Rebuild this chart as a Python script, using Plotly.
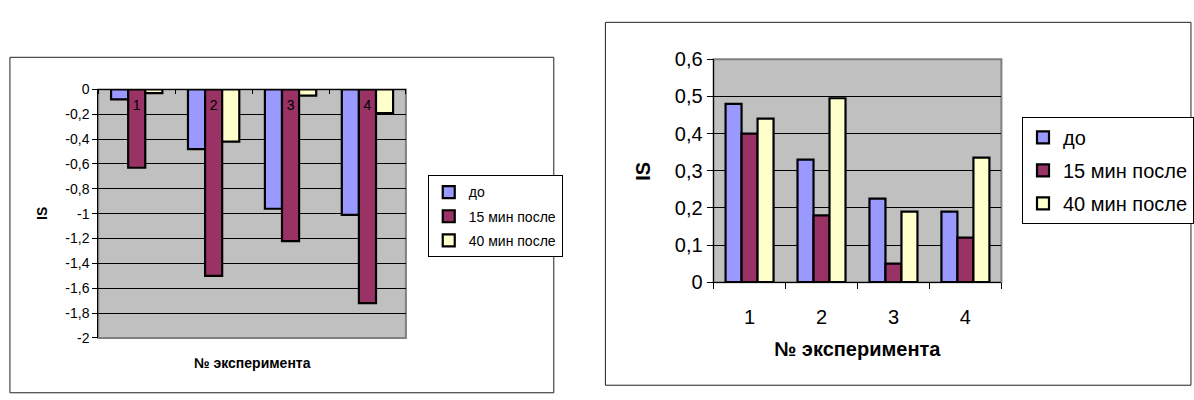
import plotly.graph_objects as go

W, H = 1194, 400

# --- data -------------------------------------------------------------
experiments = ["1", "2", "3", "4"]
series_names = ["до", "15 мин после", "40 мин после"]
series_colors = ["#9999FF", "#993366", "#FFFFCC"]

# IS, first panel (negative values)
left_do = [-0.08, -0.48, -0.96, -1.01]
left_15 = [-0.63, -1.50, -1.22, -1.72]
left_40 = [-0.03, -0.42, -0.05, -0.19]

# IS, second panel
right_do = [0.48, 0.33, 0.225, 0.19]
right_15 = [0.40, 0.18, 0.05, 0.12]
right_40 = [0.44, 0.495, 0.19, 0.335]

left_tick_vals = [0, -0.2, -0.4, -0.6, -0.8, -1, -1.2, -1.4, -1.6, -1.8, -2]
left_tick_text = ["0", "-0,2", "-0,4", "-0,6", "-0,8", "-1", "-1,2", "-1,4", "-1,6", "-1,8", "-2"]
right_tick_vals = [0, 0.1, 0.2, 0.3, 0.4, 0.5, 0.6]
right_tick_text = ["0", "0,1", "0,2", "0,3", "0,4", "0,5", "0,6"]

axis_title_x = "№ эксперимента"
axis_title_y = "IS"

FONT = "Liberation Sans, Arial, sans-serif"


def fx(px):
    return px / W


def fy(py):
    return 1 - py / H


fig = go.Figure()

left_series = [left_do, left_15, left_40]
right_series = [right_do, right_15, right_40]

for i, (name, color) in enumerate(zip(series_names, series_colors)):
    fig.add_trace(go.Bar(
        x=experiments, y=left_series[i], name=name,
        marker=dict(color=color, line=dict(color="black", width=2.2)),
        xaxis="x", yaxis="y", legend="legend", legendgroup=f"l{i}",
    ))
for i, (name, color) in enumerate(zip(series_names, series_colors)):
    fig.add_trace(go.Bar(
        x=experiments, y=right_series[i], name=name,
        marker=dict(color=color, line=dict(color="black", width=2.2)),
        xaxis="x2", yaxis="y2", legend="legend2", legendgroup=f"r{i}",
    ))

small = dict(family=FONT, size=14, color="black")
big = dict(family=FONT, size=20, color="black")

fig.update_layout(
    width=W, height=H,
    margin=dict(l=0, r=0, t=0, b=0),
    paper_bgcolor="white",
    plot_bgcolor="#C0C0C0",
    barmode="group",
    bargap=0.333,
    bargroupgap=0,
    font=dict(family=FONT, color="black"),
    showlegend=True,
    # left panel: category axis sits on the zero line at the top
    xaxis=dict(
        domain=[fx(99), fx(409)], anchor="free", position=fy(83), side="bottom",
        type="category", tickson="boundaries", ticks="outside", ticklen=4,
        tickcolor="black", showline=True, linecolor="black", linewidth=1,
        showgrid=False, tickfont=small, ticklabelstandoff=3, fixedrange=True,
    ),
    yaxis=dict(
        domain=[fy(346), fy(83)], anchor="x", range=[-2, 0],
        tickvals=left_tick_vals, ticktext=left_tick_text, tickfont=small,
        ticks="outside", ticklen=5, tickcolor="black",
        showline=True, linecolor="black", linewidth=1,
        showgrid=True, gridcolor="black", gridwidth=1, zeroline=False,
    ),
    xaxis2=dict(
        domain=[fx(719), fx(1009)], anchor="y2", side="bottom",
        type="category", tickson="boundaries", ticks="outside", ticklen=6,
        tickcolor="black", showline=True, linecolor="black", linewidth=1,
        showgrid=False, tickfont=big, ticklabelstandoff=17,
    ),
    yaxis2=dict(
        domain=[fy(287), fy(51)], anchor="x2", range=[0, 0.6],
        tickvals=right_tick_vals, ticktext=right_tick_text, tickfont=big,
        ticks="outside", ticklen=6, tickcolor="black",
        showline=True, linecolor="black", linewidth=1,
        showgrid=True, gridcolor="black", gridwidth=1, zeroline=False,
    ),
    legend=dict(
        x=fx(431), y=fy(174), xanchor="left", yanchor="top",
        bgcolor="white", bordercolor="black", borderwidth=1,
        font=small, tracegroupgap=3, itemwidth=30,
    ),
    legend2=dict(
        x=fx(1030), y=fy(112), xanchor="left", yanchor="top",
        bgcolor="white", bordercolor="black", borderwidth=1,
        font=big, tracegroupgap=4, itemwidth=30,
    ),
)

shapes = [
    # chart frames
    dict(type="rect", xref="paper", yref="paper",
         x0=fx(10), x1=fx(558), y0=fy(49), y1=fy(404),
         line=dict(color="#222222", width=1), fillcolor="rgba(0,0,0,0)", layer="below"),
    dict(type="rect", xref="paper", yref="paper",
         x0=fx(610), x1=fx(1200), y0=fy(12), y1=fy(396),
         line=dict(color="#222222", width=1), fillcolor="rgba(0,0,0,0)", layer="below"),
    # plot-area borders
    dict(type="rect", xref="x domain", yref="y domain", x0=0, x1=1, y0=0, y1=1,
         line=dict(color="#808080", width=2), layer="below"),
    dict(type="rect", xref="x2 domain", yref="y2 domain", x0=0, x1=1, y0=0, y1=1,
         line=dict(color="#808080", width=2), layer="below"),
]
fig.update_layout(shapes=shapes)

bold_small = dict(family=FONT, size=14, color="black")
bold_big = dict(family=FONT, size=20, color="black")
annotations = [
    dict(text=f"<b>{axis_title_x}</b>", x=fx(254), y=fy(372), xref="paper", yref="paper",
         showarrow=False, font=bold_small, xanchor="center", yanchor="middle"),
    dict(text=f"<b>{axis_title_y}</b>", x=fx(43), y=fy(214), xref="paper", yref="paper",
         showarrow=False, font=bold_small, textangle=-90, xanchor="center", yanchor="middle"),
    dict(text=f"<b>{axis_title_x}</b>", x=fx(864), y=fy(358), xref="paper", yref="paper",
         showarrow=False, font=bold_big, xanchor="center", yanchor="middle"),
    dict(text=f"<b>{axis_title_y}</b>", x=fx(648), y=fy(170), xref="paper", yref="paper",
         showarrow=False, font=bold_big, textangle=-90, xanchor="center", yanchor="middle"),
]
fig.update_layout(annotations=annotations)

fig.write_html("out.html")
